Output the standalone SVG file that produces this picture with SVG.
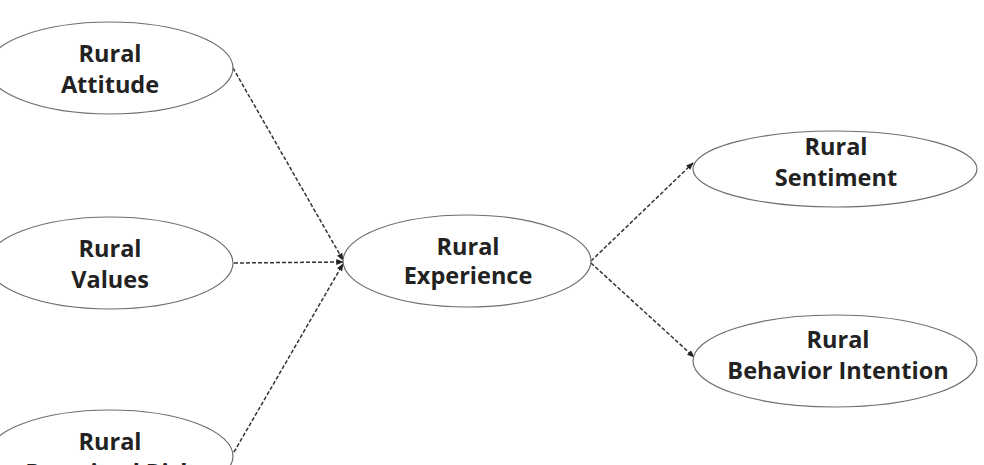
<svg xmlns="http://www.w3.org/2000/svg" width="984" height="465" viewBox="0 0 984 465">
<defs>
<style>
.node ellipse{fill:#fff;stroke:#6e6e6e;stroke-width:1.2}
.node text{font-family:"Open Sans","Noto Sans","Liberation Sans",sans-serif;font-weight:bold;font-size:23.5px;fill:#222;text-anchor:middle}
.conn line{stroke:#333;stroke-width:1.5;stroke-dasharray:4 2;fill:none}
</style>
<marker id="arr" viewBox="0 0 10 10" refX="9" refY="5" markerWidth="5" markerHeight="5" orient="auto" markerUnits="strokeWidth">
<path d="M0,1 L10,5 L0,9 z" fill="#222"/>
</marker>
</defs>
<rect width="984" height="465" fill="#fff"/>
<g class="conn">
<line x1="233" y1="68" x2="343" y2="260" marker-end="url(#arr)"/>
<line x1="234" y1="263" x2="343" y2="262" marker-end="url(#arr)"/>
<line x1="234" y1="452" x2="343" y2="264" marker-end="url(#arr)"/>
<line x1="591" y1="261" x2="693" y2="163" marker-end="url(#arr)"/>
<line x1="591" y1="263" x2="694" y2="357" marker-end="url(#arr)"/>
</g>
<g id="attitude" class="node"><ellipse cx="110" cy="68" rx="123" ry="46"/><text x="110" y="62">Rural</text><text x="110" y="93">Attitude</text></g>
<g id="values" class="node"><ellipse cx="110" cy="263" rx="123" ry="46"/><text x="110" y="257">Rural</text><text x="110" y="288">Values</text></g>
<g id="risk" class="node"><ellipse cx="110" cy="456" rx="123" ry="46"/><text x="110" y="450">Rural</text><text x="110" y="481">Perceived Risk</text></g>
<g id="experience" class="node"><ellipse cx="467" cy="261" rx="124" ry="46"/><text x="468" y="255">Rural</text><text x="468" y="284">Experience</text></g>
<g id="sentiment" class="node"><ellipse cx="835" cy="169" rx="142" ry="38"/><text x="836" y="155">Rural</text><text x="836" y="186">Sentiment</text></g>
<g id="behavior" class="node"><ellipse cx="835" cy="361" rx="142" ry="46"/><text x="838" y="348">Rural</text><text x="838" y="379">Behavior Intention</text></g>
</svg>
